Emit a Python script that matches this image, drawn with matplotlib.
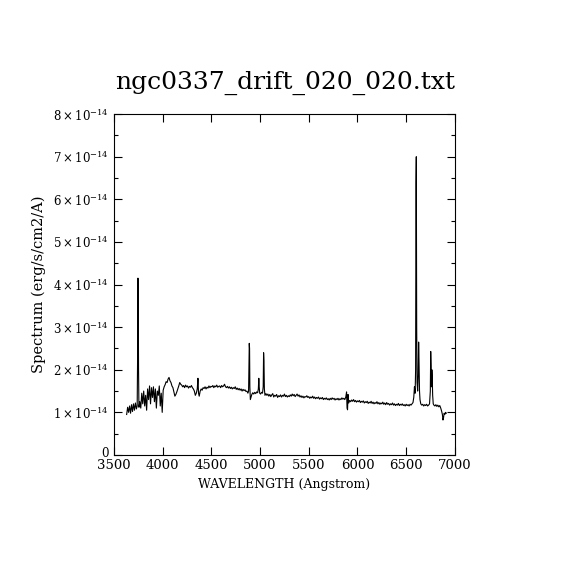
import matplotlib
matplotlib.use("Agg")
import matplotlib.pyplot as plt
import matplotlib.transforms as mtransforms
from matplotlib.ticker import MultipleLocator, FuncFormatter

title = "ngc0337_drift_020_020.txt"
xlabel = "WAVELENGTH (Angstrom)"
ylabel = "Spectrum (erg/s/cm2/A)"

# wavelength (Angstrom)
wave = [
    3630, 3640, 3650, 3660, 3670, 3680, 3690, 3700, 3710, 3720, 3730, 3738,
    3742, 3746, 3749, 3752, 3756,
    3765, 3775, 3785, 3795, 3805, 3815, 3825, 3835, 3845, 3855, 3865, 3875,
    3885, 3895, 3905, 3915, 3925, 3935, 3945, 3955, 3965, 3975, 3985, 3995,
    4005, 4015, 4025, 4035, 4045, 4055, 4065, 4075, 4085, 4095, 4105, 4115,
    4125, 4135, 4145, 4155, 4165, 4175, 4185, 4195, 4205, 4215, 4225, 4235,
    4245, 4255, 4265, 4275, 4285, 4295, 4305, 4315, 4325, 4335, 4345, 4355,
    4362, 4368, 4375, 4385, 4395, 4405, 4415, 4425, 4435, 4445, 4455, 4465,
    4475, 4485, 4495, 4505, 4515, 4525, 4535, 4545, 4555, 4565, 4575, 4585,
    4595, 4605, 4615, 4625, 4635, 4645, 4655, 4665, 4675, 4685, 4695, 4705,
    4715, 4725, 4735, 4745, 4755, 4765, 4775, 4785, 4795, 4805, 4815, 4825,
    4835, 4845, 4855, 4865, 4875, 4882,
    4886, 4889, 4892, 4895, 4900, 4906, 4915, 4925, 4935, 4945, 4955, 4965,
    4975, 4982, 4987, 4991, 4996, 5005, 5015, 5025, 5032, 5036, 5040, 5044,
    5050, 5060, 5070, 5080, 5090, 5100, 5110, 5120, 5130, 5140, 5150, 5160,
    5170, 5180, 5190, 5200, 5210, 5220, 5230, 5240, 5250, 5260, 5270, 5280,
    5290, 5300, 5310, 5320, 5330, 5340, 5350, 5360, 5370, 5380, 5390, 5400,
    5410, 5420, 5430, 5440, 5450, 5460, 5470, 5480, 5490, 5500, 5510, 5520,
    5530, 5540, 5550, 5560, 5570, 5580, 5590, 5600, 5610, 5620, 5630, 5640,
    5650, 5660, 5670, 5680, 5690, 5700, 5710, 5720, 5730, 5740, 5750, 5760,
    5770, 5780, 5790, 5800, 5810, 5820, 5830, 5840, 5850, 5860, 5870, 5880,
    5888, 5893, 5898, 5903, 5910, 5920, 5930, 5940, 5950, 5960, 5970, 5980,
    5990, 6000, 6010, 6020, 6030, 6040, 6050, 6060, 6070, 6080, 6090, 6100,
    6110, 6120, 6130, 6140, 6150, 6160, 6170, 6180, 6190, 6200, 6210, 6220,
    6230, 6240, 6250, 6260, 6270, 6280, 6290, 6300, 6310, 6320, 6330, 6340,
    6350, 6360, 6370, 6380, 6390, 6400, 6410, 6420, 6430, 6440, 6450, 6460,
    6470, 6480, 6490, 6500, 6510, 6520, 6530, 6540, 6550, 6560, 6570, 6578,
    6585, 6592, 6597, 6601, 6604, 6608, 6612, 6618, 6624, 6628, 6632, 6637,
    6642, 6650, 6660, 6670, 6680, 6690, 6700, 6710, 6720, 6730, 6740, 6748,
    6752, 6756, 6760, 6764, 6768, 6772, 6778, 6785, 6795, 6805, 6815, 6825,
    6835, 6845, 6855, 6865, 6872, 6878, 6884, 6890, 6897, 6905, 6912,
]

# flux in units of 1e-14 erg/s/cm2/A
flux = [
    0.95, 1.12, 1.00, 1.15, 0.98, 1.18, 1.02, 1.20, 1.05, 1.22, 1.08, 1.15,
    2.20, 4.15, 3.60, 2.00, 1.12,
    1.25, 1.10, 1.45, 1.20, 1.50, 1.15, 1.40, 1.05, 1.55, 1.30, 1.62, 1.20,
    1.58, 1.35, 1.60, 1.25, 1.55, 1.10, 1.50, 1.40, 1.62, 1.15, 1.45, 1.00,
    1.52, 1.60, 1.65, 1.72, 1.70, 1.78, 1.82, 1.74, 1.70, 1.62, 1.58, 1.48,
    1.38, 1.42, 1.48, 1.55, 1.62, 1.70, 1.66, 1.64, 1.60, 1.63, 1.58, 1.64,
    1.60, 1.62, 1.57, 1.61, 1.59, 1.63, 1.58, 1.55, 1.50, 1.40, 1.45, 1.55,
    1.80, 1.45, 1.38, 1.50, 1.55, 1.52, 1.58, 1.56, 1.60, 1.55, 1.59, 1.57,
    1.62, 1.58, 1.61, 1.60, 1.63, 1.58, 1.62, 1.60, 1.64, 1.59, 1.61, 1.62,
    1.58, 1.63, 1.60, 1.62, 1.66, 1.60, 1.58, 1.61, 1.57, 1.60, 1.56, 1.59,
    1.55, 1.58, 1.56, 1.60, 1.54, 1.57, 1.53, 1.56, 1.52, 1.55, 1.50, 1.54,
    1.51, 1.53, 1.49, 1.50, 1.45, 1.50,
    2.20, 2.62, 2.50, 1.60, 1.30, 1.35, 1.42, 1.46, 1.43, 1.47, 1.44, 1.48,
    1.46, 1.55, 1.80, 1.60, 1.45, 1.43, 1.47, 1.45, 1.60, 2.40, 2.20, 1.55,
    1.40, 1.44, 1.40, 1.43, 1.38, 1.42, 1.37, 1.41, 1.44, 1.36, 1.40, 1.38,
    1.42, 1.35, 1.39, 1.37, 1.41, 1.36, 1.40, 1.38, 1.43, 1.37, 1.40, 1.36,
    1.39, 1.37, 1.41, 1.38, 1.43, 1.39, 1.42, 1.37, 1.40, 1.43, 1.38, 1.41,
    1.36, 1.39, 1.35, 1.38, 1.34, 1.37, 1.36, 1.39, 1.35, 1.37, 1.33, 1.36,
    1.34, 1.38, 1.33, 1.36, 1.32, 1.35, 1.33, 1.36, 1.31, 1.34, 1.32, 1.35,
    1.30, 1.33, 1.31, 1.34, 1.30, 1.32, 1.29, 1.33, 1.30, 1.34, 1.31, 1.33,
    1.29, 1.32, 1.30, 1.33, 1.29, 1.32, 1.30, 1.34, 1.31, 1.33, 1.30, 1.36,
    1.48, 1.10, 1.06, 1.42, 1.22, 1.28, 1.25, 1.29, 1.26, 1.30, 1.25, 1.28,
    1.24, 1.27, 1.25, 1.28, 1.23, 1.26, 1.24, 1.27, 1.22, 1.25, 1.23, 1.26,
    1.21, 1.24, 1.22, 1.26, 1.21, 1.24, 1.20, 1.23, 1.21, 1.25, 1.20, 1.23,
    1.19, 1.22, 1.20, 1.24, 1.19, 1.22, 1.18, 1.23, 1.19, 1.21, 1.17, 1.20,
    1.18, 1.22, 1.17, 1.20, 1.16, 1.19, 1.17, 1.21, 1.16, 1.19, 1.17, 1.20,
    1.16, 1.18, 1.15, 1.19, 1.16, 1.18, 1.15, 1.19, 1.17, 1.20, 1.23, 1.35,
    1.60, 1.45, 2.00, 6.38, 7.00, 3.00, 1.70, 1.50, 1.90, 2.65, 2.20, 1.50,
    1.30, 1.20, 1.17, 1.19, 1.15, 1.18, 1.16, 1.19, 1.15, 1.17, 1.20, 1.50,
    2.43, 2.10, 1.60, 2.00, 1.80, 1.40, 1.20, 1.17, 1.15, 1.18, 1.14, 1.17,
    1.13, 1.16, 1.10, 1.02, 0.95, 0.82, 0.88, 0.98, 0.95, 1.00, 0.98,
]

plt.rcParams["font.family"] = ["DejaVu Serif"]
plt.rcParams["mathtext.fontset"] = "dejavuserif"

fig = plt.figure(figsize=(5.7, 5.7), dpi=100)
ax = fig.add_axes([0.2, 0.2018, 0.598, 0.598])
ax.plot(wave, flux, color="black", linewidth=0.8)

ax.set_xlim(3500, 7000)
ax.set_ylim(0, 8)
ax.xaxis.set_major_locator(MultipleLocator(500))
ax.yaxis.set_major_locator(MultipleLocator(1))
ax.yaxis.set_minor_locator(MultipleLocator(0.5))

def yfmt(v, pos):
    n = int(round(v))
    if n == 0:
        return "0"
    return r"$%d\times10^{-14}$" % n

ax.yaxis.set_major_formatter(FuncFormatter(yfmt))
ax.tick_params(axis="both", which="both", direction="in", top=True, right=True,
               width=0.8)
ax.tick_params(axis="y", which="major", labelsize=8.5)
ax.tick_params(axis="x", which="major", labelsize=9.5, pad=3)
ax.tick_params(axis="both", which="major", length=6)
ax.tick_params(axis="both", which="minor", length=3)
for s in ax.spines.values():
    s.set_linewidth(0.8)

ax.set_xlabel(xlabel, fontsize=9, labelpad=4)
ax.set_ylabel(ylabel, fontsize=10.5, labelpad=5)
fig.text(0.5, 0.855, title, ha="center", va="center", fontsize=18)

fig.canvas.draw()
# lift the "0" y tick label slightly so it clears the "3500" label
shift = mtransforms.ScaledTranslation(0, 3 / 100.0, fig.dpi_scale_trans)
for lab in ax.get_yticklabels():
    if lab.get_text() == "0":
        lab.set_transform(lab.get_transform() + shift)

fig.savefig("out.png", dpi=100)
